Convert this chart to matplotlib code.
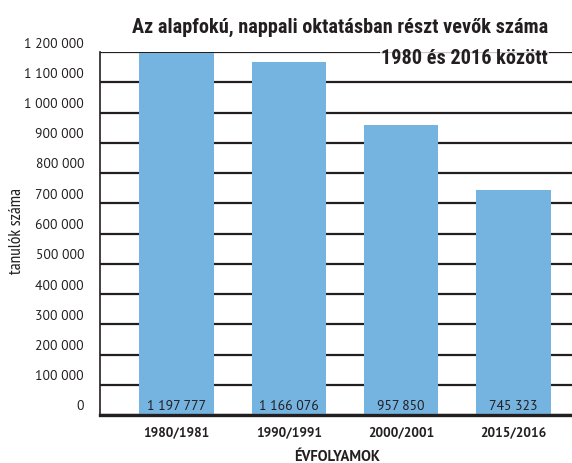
import matplotlib
matplotlib.use("Agg")
import matplotlib.pyplot as plt
from matplotlib.transforms import ScaledTranslation

categories = ["1980/1981", "1990/1991", "2000/2001", "2015/2016"]
values = [1197777, 1166076, 957850, 745323]
value_labels = ["1 197 777", "1 166 076", "957 850", "745 323"]
yticks = [0, 100000, 200000, 300000, 400000, 500000, 600000, 700000, 800000,
          900000, 1000000, 1100000, 1200000]
ytick_labels = ["0", "100 000", "200 000", "300 000", "400 000", "500 000", "600 000",
                "700 000", "800 000", "900 000", "1 000 000", "1 100 000", "1 200 000"]
title_line1 = "Az alapfokú, nappali oktatásban részt vevők száma"
title_line2 = "1980 és 2016 között"
ylabel = "tanulók száma"
xlabel = "ÉVFOLYAMOK"

DARK = "#231f20"
BAR = "#75b3e0"
REG = ["PT Sans", "DejaVu Sans"]
COND = ["Roboto Condensed", "DejaVu Sans"]
NARROW = ["PT Sans Narrow", "DejaVu Sans"]

fig = plt.figure(figsize=(5.72, 4.64), dpi=100)
ax = fig.add_axes([100/572, 1 - 416/464, 1 - 100/572, (416 - 53)/464])

x = list(range(len(categories)))
ax.set_axisbelow(True)
ax.yaxis.grid(True, color=DARK, linewidth=1.6)
ax.bar(x, values, width=0.66, color=BAR, zorder=2)
ax.set_xlim(-0.68, 3.52)
ax.set_ylim(0, 1200000)

ax.set_yticks(yticks)
ax.set_yticklabels([])
ax.tick_params(axis="y", length=0)
up = ScaledTranslation(0, 9/100, fig.dpi_scale_trans)
ytr = ax.get_yaxis_transform() + up
for yv, lbl in zip(yticks, ytick_labels):
    ax.text(-16/472, yv, lbl, transform=ytr, ha="right", va="center",
            fontsize=9.8, color=DARK, family=REG, clip_on=False)

ax.set_xticks(x)
ax.set_xticklabels(categories, fontsize=9.6, fontweight="bold", color=DARK, family=REG)
ax.tick_params(axis="x", length=0, pad=7)

for s in ["top", "right"]:
    ax.spines[s].set_visible(False)
ax.spines["left"].set_color(DARK)
ax.spines["left"].set_linewidth(1.2)
ax.spines["bottom"].set_color(DARK)
ax.spines["bottom"].set_linewidth(2.4)
ax.spines["bottom"].set_zorder(3)

for xi, lbl in zip(x, value_labels):
    ax.text(xi, 0, lbl, ha="center", va="center", fontsize=9.8, color=DARK, family=REG,
            transform=ax.transData + up, zorder=4)

fig.text(17/572, 1 - 231/464, ylabel, rotation=90, ha="center", va="center",
         fontsize=12.5, color=DARK, family=NARROW)
fig.text(337/572, 1 - 457/464, xlabel, ha="center", va="center",
         fontsize=10.5, color=DARK, family=REG, fontweight="bold")

fig.text(548/572, 1 - 27/464, title_line1, ha="right", va="center",
         fontsize=14.6, fontweight="bold", color=DARK, family=COND)
fig.text(548/572, 1 - 58/464, title_line2, ha="right", va="center",
         fontsize=14.6, fontweight="bold", color=DARK, family=COND,
         bbox=dict(facecolor="white", alpha=0.75, edgecolor="none", pad=1), zorder=5)

fig.savefig("out.png", dpi=100)
